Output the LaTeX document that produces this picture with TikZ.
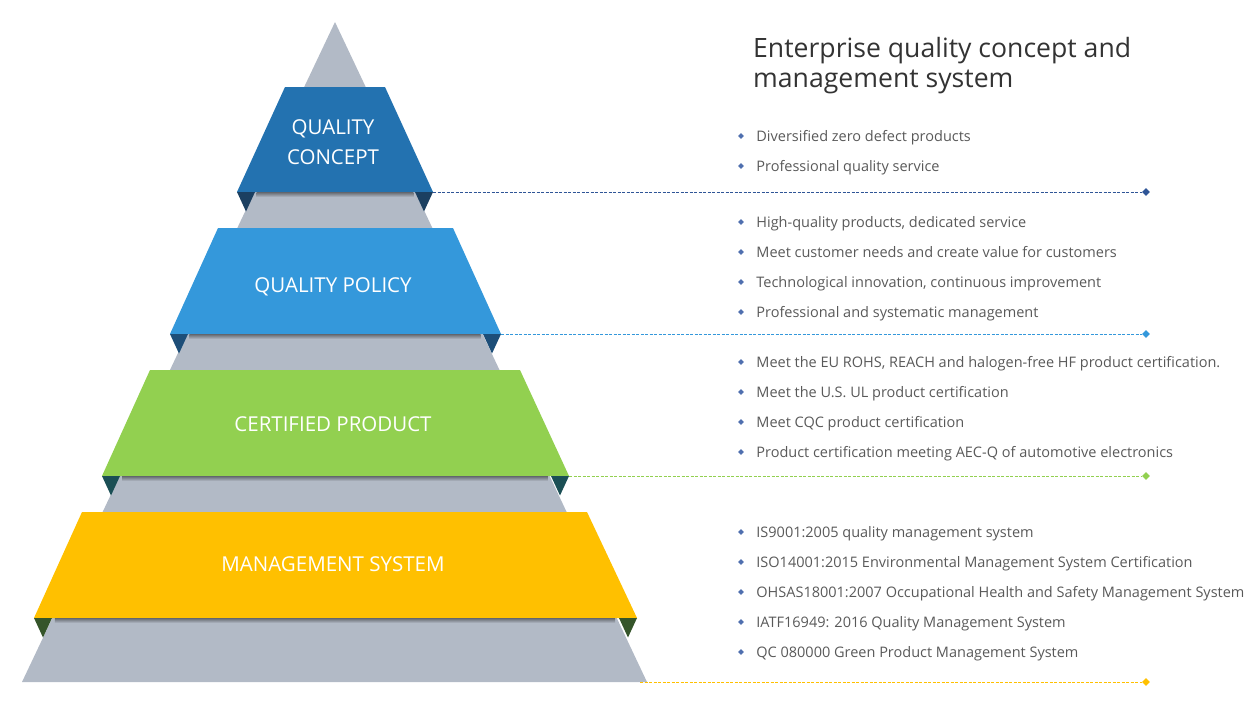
\documentclass[tikz,border=0pt]{standalone}
\usepackage{fontspec}
\setmainfont{Open Sans}
\usetikzlibrary{shapes.geometric, positioning}

\definecolor{pyrgray}{HTML}{B2BAC6}
\definecolor{conceptblue}{HTML}{2372B0}
\definecolor{policyblue}{HTML}{3498DB}
\definecolor{productgreen}{HTML}{92D050}
\definecolor{systemyellow}{HTML}{FFC000}
\definecolor{tabconcept}{HTML}{1B3F60}
\definecolor{tabpolicy}{HTML}{1D4E78}
\definecolor{tabproduct}{HTML}{1B4F55}
\definecolor{tabsystem}{HTML}{35552A}
\definecolor{leadconcept}{HTML}{2F5597}
\definecolor{dotblue}{HTML}{4F6FAF}
\definecolor{itemgray}{HTML}{595959}
\definecolor{titlegray}{HTML}{333333}

\begin{document}
\begin{tikzpicture}[x=1pt,y=-1pt,node distance=30pt,
        label/.style={text=white, align=center, inner sep=0pt, yshift=-1.5pt,
                font=\fontsize{20.5}{30}\selectfont},
        lead/.style={dash pattern=on 3pt off 1.5pt, line width=0.8pt},
        tip/.style={diamond, inner sep=0pt, minimum size=8pt},
        dot/.style={diamond, fill=dotblue, inner sep=0pt, minimum size=6pt},
        item/.style={inner sep=0pt, text=itemgray, text height=11pt, text depth=3pt,
                yshift=-1.5pt, font=\fontsize{14.5}{17}\selectfont}]
        \useasboundingbox (0,0) rectangle (1259,710);
        \fill[pyrgray] (335,22) -- (647,682) -- (22,682) -- cycle;

        \fill[conceptblue] (285,87) -- (385,87) -- (433,192) coordinate (conceptR)
                -- (237,192) coordinate (conceptL) -- cycle;
        \fill[policyblue] (218,228) -- (453,228) -- (501,334) coordinate (policyR)
                -- (170,334) coordinate (policyL) -- cycle;
        \fill[productgreen] (150,370) -- (520,370) -- (569,476) coordinate (productR)
                -- (102,476) coordinate (productL) -- cycle;
        \fill[systemyellow] (82,512) -- (587,512) -- (637,618) coordinate (systemR)
                -- (34,618) coordinate (systemL) -- cycle;

        \node[label] (concept) at (333,141) {QUALITY\\CONCEPT};
        \node[label] (policy) at (333,285) {QUALITY POLICY};
        \node[label] (product) at (333,423) {CERTIFIED PRODUCT};
        \node[label] (system) at (333,563) {MANAGEMENT SYSTEM};

        \foreach \y in {192,334,476,618} {
                \pgfmathsetmacro\w{(\y-22)*0.4735}
                \shade[top color=black!45!pyrgray, bottom color=pyrgray]
                        (335-\w+2,\y) rectangle (335+\w-2,\y+5);
        }
        \foreach \b/\c in {concept/tabconcept, policy/tabpolicy, product/tabproduct, system/tabsystem} {
                \fill[\c] (\b L) -- ++(18,0) -- ++(-9,19.5) -- cycle;
                \fill[\c] (\b R) -- ++(-18,0) -- ++(9,19.5) -- cycle;
        }

        \node[tip, fill=leadconcept] (e1) at (1146,192) {};
        \node[tip, fill=policyblue] (e2) at (1146,334) {};
        \node[tip, fill=productgreen] (e3) at (1146,476) {};
        \node[tip, fill=systemyellow] (e4) at (1146,682) {};
        \coordinate (s4) at (640,682);
        \draw[lead, leadconcept] (conceptR) -- (e1);
        \draw[lead, policyblue] (policyR) -- (e2);
        \draw[lead, productgreen] (productR) -- (e3);
        \draw[lead, systemyellow] (s4) -- (e4);

        \node[anchor=north west, align=left, inner sep=0pt, text=titlegray,
                font=\fontsize{26.6}{30}\selectfont] (title) at (753,37)
                {Enterprise quality concept and\\management system};

        \node[dot] (c1) at (741,136) {};
        \node[dot, below of=c1] (c2) {};
        \node[item, right=12pt of c1] {Diversified zero defect products};
        \node[item, right=12pt of c2] {Professional quality service};

        \node[dot] (p1) at (741,222) {};
        \node[dot, below of=p1] (p2) {};
        \node[dot, below of=p2] (p3) {};
        \node[dot, below of=p3] (p4) {};
        \node[item, right=12pt of p1] {High-quality products, dedicated service};
        \node[item, right=12pt of p2] {Meet customer needs and create value for customers};
        \node[item, right=12pt of p3] {Technological innovation, continuous improvement};
        \node[item, right=12pt of p4] {Professional and systematic management};

        \node[dot] (r1) at (741,362) {};
        \node[dot, below of=r1] (r2) {};
        \node[dot, below of=r2] (r3) {};
        \node[dot, below of=r3] (r4) {};
        \node[item, right=12pt of r1] {Meet the EU ROHS, REACH and halogen-free HF product certification.};
        \node[item, right=12pt of r2] {Meet the U.S. UL product certification};
        \node[item, right=12pt of r3] {Meet CQC product certification};
        \node[item, right=12pt of r4] {Product certification meeting AEC-Q of automotive electronics};

        \node[dot] (m1) at (741,532) {};
        \node[dot, below of=m1] (m2) {};
        \node[dot, below of=m2] (m3) {};
        \node[dot, below of=m3] (m4) {};
        \node[dot, below of=m4] (m5) {};
        \node[item, right=12pt of m1] {IS9001:2005 quality management system};
        \node[item, right=12pt of m2] {ISO14001:2015 Environmental Management System Certification};
        \node[item, right=12pt of m3] {OHSAS18001:2007 Occupational Health and Safety Management System};
        \node[item, right=12pt of m4] {IATF16949: 2016 Quality Management System};
        \node[item, right=12pt of m5] {QC 080000 Green Product Management System};
\end{tikzpicture}
\end{document}
